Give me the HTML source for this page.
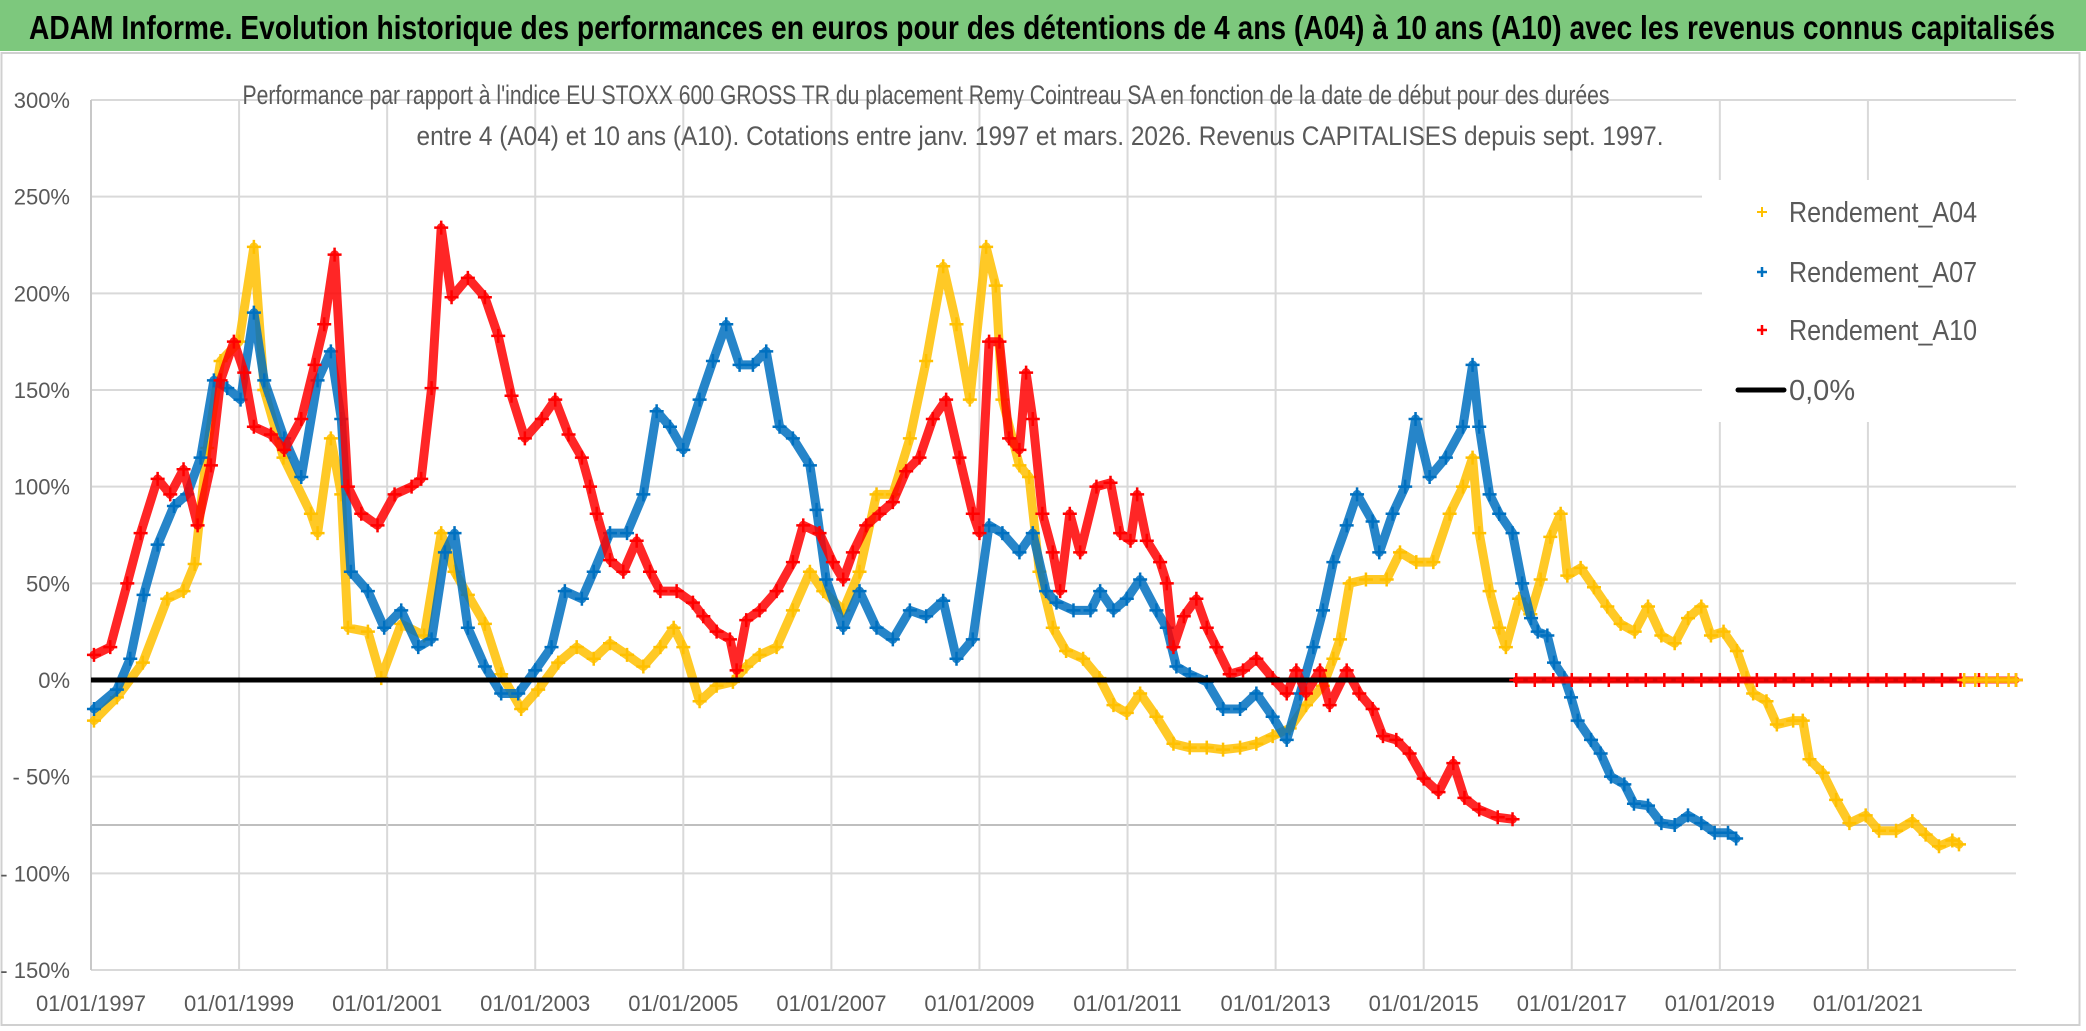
<!DOCTYPE html>
<html><head><meta charset="utf-8"><style>
html,body{margin:0;padding:0;background:#fff;}
svg{display:block;font-family:"Liberation Sans Narrow","Liberation Sans",sans-serif;}
</style></head><body>
<svg id="chart" width="2086" height="1031" viewBox="0 0 2086 1031" xmlns="http://www.w3.org/2000/svg">
<rect x="0" y="0" width="2086" height="1031" fill="#fff"/>
<rect x="0" y="0" width="2086" height="51" fill="#7DC87D"/>
<text x="29" y="39" font-size="33" font-weight="bold" fill="#000" textLength="2026" lengthAdjust="spacingAndGlyphs">ADAM Informe. Evolution historique des performances en euros pour des détentions de 4 ans (A04) à 10 ans (A10) avec les revenus connus capitalisés</text>
<rect x="1.5" y="53" width="2078" height="972" fill="none" stroke="#d0d0d0" stroke-width="2"/>
<g id="grid"></g>
<g id="series"></g>
<rect x="1702" y="180" width="314" height="242" fill="#fff"/>
<g>
  <g>
    <path d="M1757 212h10M1762 207v10" stroke="#FFC000" stroke-width="2"/>
    <text x="1789" y="222" font-size="29" fill="#595959" textLength="188" lengthAdjust="spacingAndGlyphs">Rendement_A04</text>
  </g>
  <g>
    <path d="M1757 272h10M1762 267v10" stroke="#0070C0" stroke-width="2.5"/>
    <text x="1789" y="282" font-size="29" fill="#595959" textLength="188" lengthAdjust="spacingAndGlyphs">Rendement_A07</text>
  </g>
  <g>
    <path d="M1757 330h10M1762 325v10" stroke="#FF0000" stroke-width="2.5"/>
    <text x="1789" y="340" font-size="29" fill="#595959" textLength="188" lengthAdjust="spacingAndGlyphs">Rendement_A10</text>
  </g>
  <g>
    <line x1="1738" y1="390" x2="1784" y2="390" stroke="#000" stroke-width="5" stroke-linecap="round"/>
    <text x="1789" y="400" font-size="29" fill="#595959">0,0%</text>
  </g>
</g>
<text x="926" y="104" font-size="27" fill="#595959" text-anchor="middle" textLength="1367" lengthAdjust="spacingAndGlyphs">Performance par rapport à l'indice EU STOXX 600 GROSS TR  du placement Remy Cointreau SA en fonction de la date de début pour des durées</text>
<text x="1040" y="145" font-size="27" fill="#595959" text-anchor="middle" textLength="1247" lengthAdjust="spacingAndGlyphs">entre 4 (A04) et 10 ans (A10). Cotations entre janv. 1997 et mars. 2026. Revenus CAPITALISES depuis sept. 1997.</text>
</svg>
<script>
const yTicks = [300, 250, 200, 150, 100, 50, 0, -50, -100, -150];
const yTickLabels = ["300%", "250%", "200%", "150%", "100%", "50%", "0%", "- 50%", "- 100%", "- 150%"];
const xTicks = [1997, 1999, 2001, 2003, 2005, 2007, 2009, 2011, 2013, 2015, 2017, 2019, 2021];
const xTickLabels = ["01/01/1997", "01/01/1999", "01/01/2001", "01/01/2003", "01/01/2005", "01/01/2007", "01/01/2009", "01/01/2011", "01/01/2013", "01/01/2015", "01/01/2017", "01/01/2019", "01/01/2021"];

const a04Years = [1997.04,1997.35,1997.7,1998.03,1998.25,1998.4,1998.57,1998.75,1999.0,1999.2,1999.34,1999.6,1999.97,2000.06,2000.24,2000.38,2000.47,2000.74,2000.92,2001.19,2001.5,2001.73,2001.91,2002.09,2002.32,2002.54,2002.81,2003.04,2003.31,2003.56,2003.79,2004.01,2004.24,2004.46,2004.69,2004.87,2005.0,2005.22,2005.45,2005.67,2005.85,2006.03,2006.26,2006.48,2006.71,2006.89,2007.16,2007.38,2007.61,2007.83,2008.06,2008.28,2008.51,2008.69,2008.87,2009.09,2009.22,2009.31,2009.54,2009.67,2009.81,2009.99,2010.17,2010.4,2010.62,2010.81,2010.99,2011.17,2011.39,2011.62,2011.84,2012.07,2012.29,2012.52,2012.74,2012.96,2013.19,2013.41,2013.64,2013.78,2013.87,2014.0,2014.22,2014.5,2014.68,2014.9,2015.13,2015.35,2015.53,2015.66,2015.75,2015.89,2016.02,2016.11,2016.29,2016.44,2016.58,2016.71,2016.85,2016.94,2017.12,2017.3,2017.48,2017.66,2017.85,2018.03,2018.21,2018.39,2018.57,2018.75,2018.88,2019.05,2019.23,2019.36,2019.45,2019.63,2019.77,2019.99,2020.12,2020.21,2020.39,2020.57,2020.75,2020.97,2021.15,2021.38,2021.6,2021.78,2021.96,2022.14,2022.23];
const a04Values = [-21,-9,9,42,46,60,120,165,175,224,150,115,86,76,125,96,27,25,1,29,23,76,56,44,29,3,-15,-5,9,17,11,19,13,7,17,27,17,-11,-3,-1,7,13,17,36,56,46,36,56,96,96,125,165,214,184,145,224,204,145,111,105,56,27,15,11,1,-13,-17,-7,-19,-33,-35,-35,-36,-35,-33,-29,-25,-13,-3,11,21,50,52,52,66,61,61,86,100,115,76,46,27,17,42,34,52,74,86,54,58,48,38,29,25,38,23,19,32,38,23,25,15,1,-7,-11,-23,-21,-21,-41,-48,-62,-74,-70,-78,-78,-73,-80,-86,-83,-85];
const a04TailYears = [2022.3,2022.45,2022.6,2022.75,2022.9,2023.0];
const a04TailValues = [0,0,0,0,0,0];

const a07Years = [1997.04,1997.35,1997.53,1997.71,1997.9,1998.12,1998.3,1998.48,1998.66,1998.84,1999.02,1999.2,1999.34,1999.61,1999.84,2000.06,2000.24,2000.38,2000.51,2000.74,2000.96,2001.19,2001.42,2001.6,2001.78,2001.91,2002.09,2002.32,2002.54,2002.77,2003.0,2003.22,2003.4,2003.63,2003.79,2004.01,2004.24,2004.46,2004.64,2004.82,2005.0,2005.22,2005.4,2005.58,2005.76,2005.94,2006.12,2006.3,2006.48,2006.71,2006.8,2006.93,2007.16,2007.38,2007.61,2007.83,2008.06,2008.28,2008.51,2008.69,2008.91,2009.13,2009.31,2009.54,2009.72,2009.9,2010.04,2010.27,2010.5,2010.63,2010.81,2010.99,2011.17,2011.39,2011.53,2011.66,2011.84,2012.07,2012.29,2012.52,2012.74,2012.96,2013.15,2013.33,2013.51,2013.64,2013.78,2013.96,2014.1,2014.31,2014.4,2014.58,2014.75,2014.89,2015.08,2015.3,2015.53,2015.66,2015.75,2015.89,2016.02,2016.2,2016.33,2016.45,2016.54,2016.67,2016.76,2016.9,2016.99,2017.08,2017.26,2017.39,2017.53,2017.71,2017.84,2018.03,2018.21,2018.39,2018.57,2018.75,2018.93,2019.11,2019.22];
const a07Values = [-15,-5,11,44,70,90,96,115,155,151,145,190,155,125,105,155,170,135,56,46,27,36,17,21,66,76,27,7,-7,-7,5,17,46,42,56,76,76,96,139,131,119,145,165,184,163,163,170,131,125,111,88,52,27,46,27,21,36,33,41,11,21,80,76,66,76,46,40,36,36,46,36,42,52,36,27,7,3,-1,-15,-15,-7,-19,-31,-7,17,36,61,80,96,82,66,86,100,135,105,115,131,163,131,96,86,76,50,32,25,23,9,1,-9,-21,-31,-38,-50,-54,-64,-65,-74,-75,-70,-74,-79,-79,-82];

const a10Years = [1997.04,1997.26,1997.49,1997.67,1997.9,1998.07,1998.25,1998.44,1998.62,1998.75,1998.93,1999.07,1999.2,1999.43,1999.61,1999.84,2000.02,2000.15,2000.29,2000.47,2000.65,2000.87,2001.1,2001.33,2001.46,2001.6,2001.73,2001.87,2002.09,2002.32,2002.5,2002.68,2002.86,2003.09,2003.27,2003.45,2003.63,2003.74,2003.83,2004.01,2004.19,2004.37,2004.55,2004.69,2004.91,2005.13,2005.27,2005.45,2005.63,2005.72,2005.85,2006.03,2006.26,2006.48,2006.62,2006.84,2007.02,2007.16,2007.29,2007.47,2007.65,2007.83,2008.01,2008.19,2008.37,2008.55,2008.73,2008.91,2009.0,2009.13,2009.27,2009.4,2009.54,2009.63,2009.72,2009.85,2009.99,2010.09,2010.22,2010.36,2010.58,2010.77,2010.9,2011.04,2011.13,2011.26,2011.44,2011.53,2011.62,2011.76,2011.93,2012.07,2012.2,2012.38,2012.56,2012.74,2012.96,2013.15,2013.28,2013.41,2013.6,2013.73,2013.96,2014.13,2014.31,2014.45,2014.63,2014.81,2015.0,2015.2,2015.4,2015.55,2015.75,2016.0,2016.2];
const a10Values = [13,17,50,76,104,96,109,80,111,155,175,159,131,127,119,135,163,184,220,100,86,80,96,100,104,151,234,198,208,198,178,147,125,135,145,127,115,100,86,62,56,72,56,46,46,40,33,25,21,5,31,36,46,61,80,76,61,52,66,80,86,92,108,115,135,145,115,86,76,175,175,125,119,159,135,86,66,46,86,66,100,102,76,72,96,72,61,50,17,33,42,27,17,3,5,11,1,-7,5,-7,5,-13,5,-7,-15,-29,-31,-38,-51,-58,-43,-61,-67,-71,-72];
const a10TailYears = [2016.25,2016.5,2016.75,2017.0,2017.25,2017.5,2017.75,2018.0,2018.25,2018.5,2018.75,2019.0,2019.25,2019.5,2019.75,2020.0,2020.25,2020.5,2020.75,2021.0,2021.25,2021.5,2021.75,2022.0,2022.25,2022.5,2022.75,2023.0];
const a10TailValues = [0,0,0,0,0,0,0,0,0,0,0,0,0,0,0,0,0,0,0,0,0,0,0,0,0,0,0,0];

const NS = "http://www.w3.org/2000/svg";
const X0 = 91, X1 = 2016, YR0 = 1997, YR1 = 2023;
const YTOP = 100, YBOT = 970, VMAX = 300, VMIN = -150;
function xScale(yr){ return X0 + (yr - YR0) / (YR1 - YR0) * (X1 - X0); }
function yScale(v){ return YTOP + (VMAX - v) / (VMAX - VMIN) * (YBOT - YTOP); }
function mk(tag, attrs, parent){ const e = document.createElementNS(NS, tag); for (const k in attrs) e.setAttribute(k, attrs[k]); parent.appendChild(e); return e; }

const grid = document.getElementById('grid');
yTicks.forEach((v, i) => {
  const y = yScale(v);
  const ln = mk('line', {x1: X0, x2: X1, y1: y, y2: y, stroke: '#d9d9d9', 'stroke-width': 2}, grid);
  
  
  const t = mk('text', {x: 70, y: y + 8, 'font-size': 22, fill: '#595959', 'text-anchor': 'end'}, grid);
  t.textContent = yTickLabels[i];
  
  
});
const extra = mk('line', {x1: X0, x2: X1, y1: yScale(-75), y2: yScale(-75), stroke: '#bfbfbf', 'stroke-width': 2}, grid);


xTicks.forEach((yr, i) => {
  const x = xScale(yr);
  const ln = mk('line', {x1: x, x2: x, y1: YTOP, y2: YBOT, stroke: i === 0 ? '#c8c8c8' : '#d9d9d9', 'stroke-width': 2}, grid);
  
  
  const t = mk('text', {x: x, y: 1011, 'font-size': 22, fill: '#595959', 'text-anchor': 'middle'}, grid);
  t.textContent = xTickLabels[i];
  
  
});

const layer = document.getElementById('series');
function drawSeries(years, vals, color, name, bandWidth){
  const g = mk('g', {}, layer);
  
  
  const pts = years.map((yr, i) => xScale(yr).toFixed(1) + ',' + yScale(vals[i]).toFixed(1)).join(' ');
  const pl = mk('polyline', {points: pts, fill: 'none', stroke: color, 'stroke-width': bandWidth, 'stroke-linejoin': 'round', 'stroke-linecap': 'round', opacity: 0.85}, g);
  
  
  years.forEach((yr, i) => {
    const x = xScale(yr), y = yScale(vals[i]);
    const p = mk('path', {d: `M${x-7} ${y}h14M${x} ${y-7}v14`, stroke: color, 'stroke-width': 2.5}, g);
    
    
  });
}
drawSeries(a04Years, a04Values, '#FFC000', 'series-a04', 9);
drawSeries(a07Years, a07Values, '#0070C0', 'series-a07', 9);
drawSeries(a10Years, a10Values, '#FF0000', 'series-a10', 9);

const zl = mk('line', {x1: X0, x2: X1, y1: yScale(0), y2: yScale(0), stroke: '#000', 'stroke-width': 5}, layer);


drawSeries(a10TailYears, a10TailValues, '#FF0000', 'series-a10-tail', 7);
drawSeries(a04TailYears, a04TailValues, '#FFC000', 'series-a04-tail', 6);
</script>
</body></html>
